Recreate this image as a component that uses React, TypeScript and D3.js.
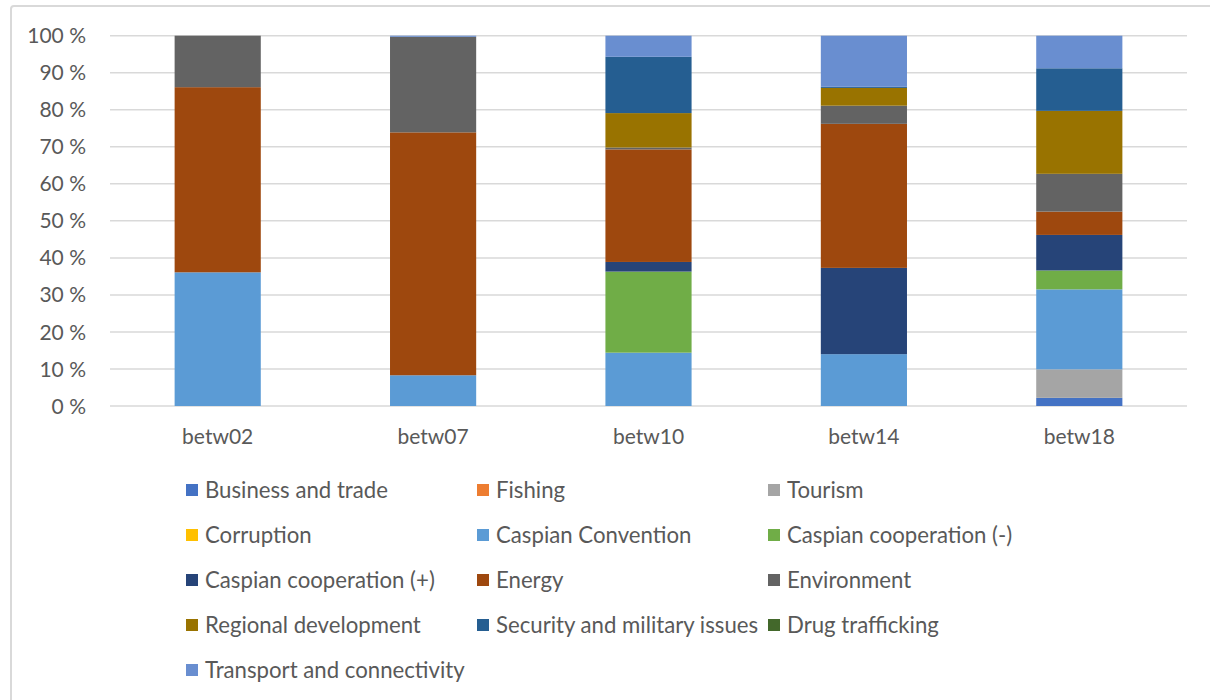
import React from "react";
import * as d3 from "d3";

// Share of coverage by topic in each survey wave (percent of wave total)
const waves = ["betw02", "betw07", "betw10", "betw14", "betw18"];

const topics = [
  "Business and trade",
  "Fishing",
  "Tourism",
  "Corruption",
  "Caspian Convention",
  "Caspian cooperation (-)",
  "Caspian cooperation (+)",
  "Energy",
  "Environment",
  "Regional development",
  "Security and military issues",
  "Drug trafficking",
  "Transport and connectivity",
];

const businessTrade = [0, 0, 0, 0, 2.2];
const fishing = [0, 0, 0, 0, 0];
const tourism = [0, 0, 0, 0, 7.7];
const corruption = [0, 0, 0, 0, 0];
const caspianConvention = [36.1, 8.3, 14.4, 14.0, 21.6];
const cooperationNeg = [0, 0, 21.9, 0, 5.1];
const cooperationPos = [0, 0, 2.6, 23.3, 9.6];
const energy = [50.0, 65.6, 30.4, 38.9, 6.3];
const environment = [13.9, 25.8, 0.5, 4.9, 10.2];
const regionalDevelopment = [0, 0, 9.3, 4.8, 17.0];
const security = [0, 0, 15.2, 0.3, 11.5];
const drugTrafficking = [0, 0, 0, 0, 0];
const transport = [0, 0.3, 5.7, 13.8, 8.8];

const seriesValues = [
  businessTrade,
  fishing,
  tourism,
  corruption,
  caspianConvention,
  cooperationNeg,
  cooperationPos,
  energy,
  environment,
  regionalDevelopment,
  security,
  drugTrafficking,
  transport,
];

const colors = [
  "#4472C4",
  "#ED7D31",
  "#A5A5A5",
  "#FFC000",
  "#5B9BD5",
  "#70AD47",
  "#264478",
  "#9E480E",
  "#636363",
  "#997300",
  "#255E91",
  "#43682B",
  "#698ED0",
];

const yTicks = [0, 0.1, 0.2, 0.3, 0.4, 0.5, 0.6, 0.7, 0.8, 0.9, 1.0];

const W = 1210;
const H = 700;
const FONT = "Lato, 'Open Sans', sans-serif";
const TEXT = "#595959";
const GRID = "#d9d9d9";

export default function App() {
  const rows = waves.map((w, i) => {
    const r: Record<string, number | string> = { wave: w };
    topics.forEach((t, k) => (r[t] = seriesValues[k][i]));
    return r;
  });

  const stacked = d3
    .stack<Record<string, number | string>>()
    .keys(topics)
    .value((d, key) => d[key] as number)
    .offset(d3.stackOffsetExpand)(rows);

  const x = d3
    .scaleBand<string>()
    .domain(waves)
    .range([110, 1187])
    .paddingInner(0.6)
    .paddingOuter(0.3);
  const y = d3.scaleLinear().domain([0, 1]).range([406, 35.7]);
  const fmt = (v: number) => `${Math.round(v * 100)} %`;

  const legendCols = [186, 477, 768];
  const legendRow0 = 490;
  const legendRowGap = 45;

  return (
    <svg
      width={W}
      height={H}
      style={{ position: "absolute", left: 0, top: 0, background: "#fff" }}
      fontFamily={FONT}
    >
      <rect x={11} y={6} width={1400} height={900} rx={3} fill="#fff" stroke={GRID} strokeWidth={2} />

      {yTicks.map((t) => (
        <g key={t}>
          <line x1={110} x2={1187} y1={y(t)} y2={y(t)} stroke={GRID} strokeWidth={1.5} />
          <text x={86} y={y(t)} dy="0.36em" textAnchor="end" fontSize={21} fill={TEXT}>
            {fmt(t)}
          </text>
        </g>
      ))}

      {stacked.map((s, k) => (
        <g key={topics[k]} fill={colors[k]}>
          {s.map((d, i) =>
            d[1] - d[0] > 0 ? (
              <rect
                key={waves[i]}
                x={x(waves[i])}
                width={x.bandwidth()}
                y={y(d[1])}
                height={y(d[0]) - y(d[1])}
              />
            ) : null
          )}
        </g>
      ))}

      {waves.map((w) => (
        <text
          key={w}
          x={(x(w) as number) + x.bandwidth() / 2}
          y={444}
          textAnchor="middle"
          fontSize={21}
          fill={TEXT}
        >
          {w}
        </text>
      ))}

      {topics.map((t, k) => {
        const col = k % 3;
        const row = Math.floor(k / 3);
        const cy = legendRow0 + row * legendRowGap;
        const lx = legendCols[col];
        return (
          <g key={t}>
            <rect x={lx} y={cy - 6} width={12} height={12} fill={colors[k]} />
            <text x={lx + 19} y={cy} dy="0.36em" fontSize={22.2} fill={TEXT}>
              {t}
            </text>
          </g>
        );
      })}
    </svg>
  );
}
